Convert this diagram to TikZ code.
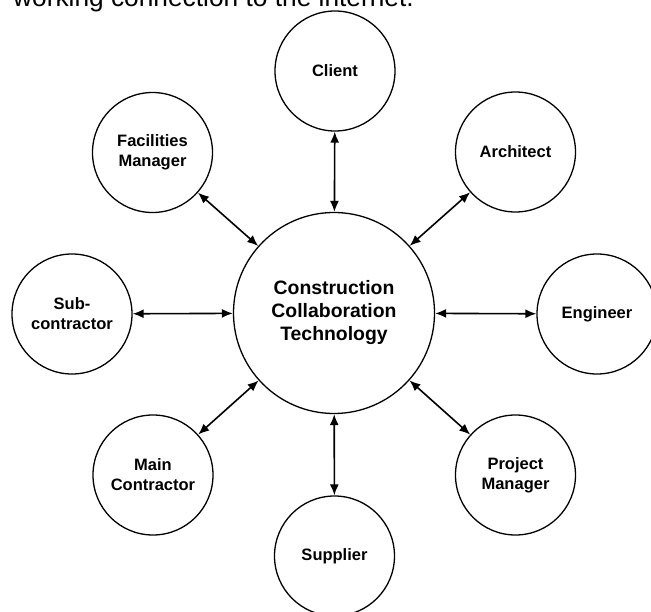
\documentclass[tikz,border=0pt]{standalone}
\usepackage{fontspec}
\setmainfont{Liberation Sans}
\usetikzlibrary{arrows.meta}
\begin{document}
\begin{tikzpicture}[x=1pt,y=-1pt,
  party/.style={circle,draw,line width=1.3pt,minimum size=120pt,inner sep=0pt,
    align=center,font=\fontsize{16.5}{20}\selectfont\bfseries},
  hub/.style={circle,draw,line width=1.3pt,minimum size=201pt,inner sep=0pt,
    align=center,font=\fontsize{19.4}{23}\selectfont\bfseries},
  link/.style={line width=1.6pt,{Latex[length=11pt,width=9pt]}-{Latex[length=11pt,width=9pt]}}]
  \clip (0,0) rectangle (651,612);
  \fill[white] (0,0) rectangle (651,612);

  % running text above the figure
  \node[anchor=base west,inner sep=0pt,font=\fontsize{26.3}{30}\selectfont] (txt) at (13,6.5)
    {working connection to the internet.};

  % central node
  \node[hub] (cct) at (334,313) {Construction\\Collaboration\\Technology};

  % surrounding parties
  \node[party] (client)   at (335,71)    {Client};
  \node[party] (arch)     at (515.5,152) {Architect};
  \node[party] (eng)      at (597,314)   {Engineer};
  \node[party] (pm)       at (515.5,475) {Project\\Manager};
  \node[party] (supp)     at (334.5,556) {Supplier};
  \node[party] (mc)       at (153,475)   {Main\\Contractor};
  \node[party] (sub)      at (72,314)    {Sub-\\contractor};
  \node[party] (fm)       at (152.5,152.5) {Facilities\\Manager};

  % two-way links to the hub
  \draw[link] (client) -- (cct);
  \draw[link] (arch) -- (cct);
  \draw[link] (eng) -- (cct);
  \draw[link] (pm) -- (cct);
  \draw[link] (supp) -- (cct);
  \draw[link] (mc) -- (cct);
  \draw[link] (sub) -- (cct);
  \draw[link] (fm) -- (cct);
\end{tikzpicture}
\end{document}
